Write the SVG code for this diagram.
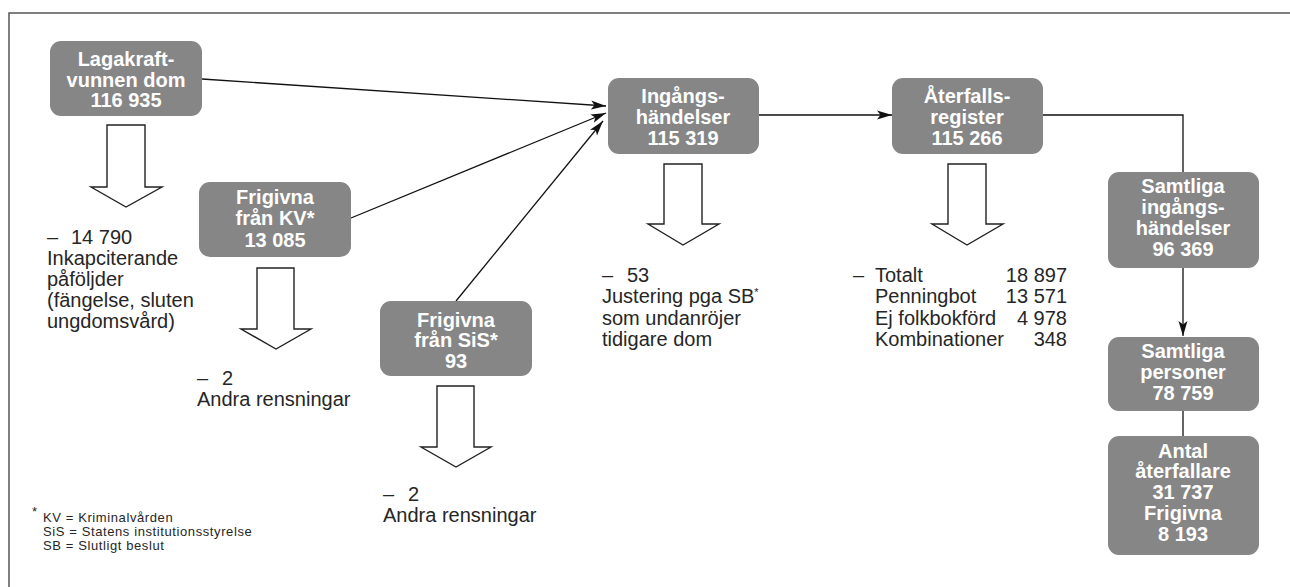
<svg xmlns="http://www.w3.org/2000/svg" width="1290" height="587" viewBox="0 0 1290 587">
<style>
.node rect{fill:#868686;}
.nt{font-family:"Liberation Sans",Arial,sans-serif;font-weight:bold;font-size:20px;fill:#fff;text-anchor:middle;}
.lbl{font-family:"Liberation Sans",Arial,sans-serif;font-size:20px;fill:#262626;}
.fn{font-family:"Liberation Sans",Arial,sans-serif;font-size:13px;letter-spacing:0.6px;fill:#262626;}
.conn{stroke:#111;stroke-width:1.3;fill:none;}
.block{fill:#fff;stroke:#222;stroke-width:1.4;stroke-linejoin:miter;}
.frame{fill:none;stroke:#555;stroke-width:1.5;}
</style>
<defs>
<marker id="ah" markerUnits="userSpaceOnUse" markerWidth="16" markerHeight="10" refX="15" refY="5" orient="auto">
<path d="M0,0.5 L15,5 L0,9.5 L3.5,5 Z" fill="#111"/>
</marker>
</defs>
<rect width="1290" height="587" fill="#fff"/>
<path class="frame" d="M9,587 V13 H1290"/>

<g id="connectors">
<line class="conn" x1="202" y1="79" x2="606" y2="106" marker-end="url(#ah)"/>
<line class="conn" x1="351" y1="218" x2="606" y2="113" marker-end="url(#ah)"/>
<line class="conn" x1="456" y1="301" x2="603" y2="121" marker-end="url(#ah)"/>
<line class="conn" x1="759" y1="115" x2="892" y2="115" marker-end="url(#ah)"/>
<path class="conn" d="M1043,115 H1183 V172"/>
<line class="conn" x1="1183" y1="268" x2="1183" y2="336" marker-end="url(#ah)"/>
<line class="conn" x1="1183" y1="411" x2="1183" y2="436"/>
</g>

<g id="block-arrows">
<path class="block" d="M107,125 H145 V187 H162 L126,207 L91,187 H107 Z"/>
<path class="block" d="M257,268 H294 V329 H311 L276,349 L241,329 H257 Z"/>
<path class="block" d="M437,386 H474 V447 H491 L456,467 L421,447 H437 Z"/>
<path class="block" d="M664,164 H702 V224 H719 L683,245 L648,224 H664 Z"/>
<path class="block" d="M948,164 H986 V224 H1003 L967,245 L932,224 H948 Z"/>
</g>

<g id="n-lagakraft" class="node">
<rect x="50" y="41" width="152" height="75" rx="11"/>
<text class="nt"><tspan x="126" y="66">Lagakraft-</tspan><tspan x="126" y="87">vunnen dom</tspan><tspan x="126" y="107">116 935</tspan></text>
</g>
<g id="n-kv" class="node">
<rect x="199" y="182" width="152" height="75" rx="11"/>
<text class="nt"><tspan x="275" y="204">Frigivna</tspan><tspan x="275" y="225">från KV*</tspan><tspan x="275" y="247">13 085</tspan></text>
</g>
<g id="n-sis" class="node">
<rect x="380" y="301" width="152" height="75" rx="11"/>
<text class="nt"><tspan x="456" y="327">Frigivna</tspan><tspan x="456" y="347">från SiS*</tspan><tspan x="456" y="368">93</tspan></text>
</g>
<g id="n-ingang" class="node">
<rect x="608" y="78" width="151" height="76" rx="11"/>
<text class="nt"><tspan x="683" y="103">Ingångs-</tspan><tspan x="683" y="124">händelser</tspan><tspan x="683" y="145">115 319</tspan></text>
</g>
<g id="n-aterfall" class="node">
<rect x="892" y="78" width="151" height="76" rx="11"/>
<text class="nt"><tspan x="967" y="103">Återfalls-</tspan><tspan x="967" y="124">register</tspan><tspan x="967" y="145">115 266</tspan></text>
</g>
<g id="n-samtliga-ing" class="node">
<rect x="1108" y="172" width="151" height="96" rx="11"/>
<text class="nt"><tspan x="1183" y="193">Samtliga</tspan><tspan x="1183" y="214">ingångs-</tspan><tspan x="1183" y="235">händelser</tspan><tspan x="1183" y="256">96 369</tspan></text>
</g>
<g id="n-personer" class="node">
<rect x="1108" y="337" width="151" height="74" rx="11"/>
<text class="nt"><tspan x="1183" y="358">Samtliga</tspan><tspan x="1183" y="379">personer</tspan><tspan x="1183" y="400">78 759</tspan></text>
</g>
<g id="n-antal" class="node">
<rect x="1108" y="436" width="151" height="119" rx="11"/>
<text class="nt"><tspan x="1183" y="458">Antal</tspan><tspan x="1183" y="478">återfallare</tspan><tspan x="1183" y="499">31 737</tspan><tspan x="1183" y="520">Frigivna</tspan><tspan x="1183" y="541">8 193</tspan></text>
</g>

<g id="labels">
<text class="lbl"><tspan x="47" y="244">–</tspan><tspan x="71" y="244">14 790</tspan><tspan x="47" y="265">Inkapciterande</tspan><tspan x="47" y="286">påföljder</tspan><tspan x="47" y="307">(fängelse, sluten</tspan><tspan x="47" y="328">ungdomsvård)</tspan></text>
<text class="lbl"><tspan x="197" y="385">–</tspan><tspan x="222" y="385">2</tspan><tspan x="197" y="406">Andra rensningar</tspan></text>
<text class="lbl"><tspan x="383" y="501">–</tspan><tspan x="408" y="501">2</tspan><tspan x="383" y="522">Andra rensningar</tspan></text>
<text class="lbl"><tspan x="602" y="282">–</tspan><tspan x="627" y="282">53</tspan><tspan x="602" y="303">Justering pga SB</tspan><tspan font-size="11" dy="-7">*</tspan><tspan x="602" y="325">som undanröjer</tspan><tspan x="602" y="346">tidigare dom</tspan></text>
<text class="lbl"><tspan x="853" y="282">–</tspan><tspan x="875" y="282">Totalt</tspan><tspan x="875" y="303">Penningbot</tspan><tspan x="875" y="325">Ej folkbokförd</tspan><tspan x="875" y="346">Kombinationer</tspan></text>
<text class="lbl" text-anchor="end"><tspan x="1067" y="282">18 897</tspan><tspan x="1067" y="303">13 571</tspan><tspan x="1067" y="325">4 978</tspan><tspan x="1067" y="346">348</tspan></text>
</g>

<g id="footnote">
<text class="fn" x="32" y="516" font-size="10">*</text>
<text class="fn"><tspan x="43" y="522">KV = Kriminalvården</tspan><tspan x="43" y="536">SiS = Statens institutionsstyrelse</tspan><tspan x="43" y="550">SB = Slutligt beslut</tspan></text>
</g>
</svg>
